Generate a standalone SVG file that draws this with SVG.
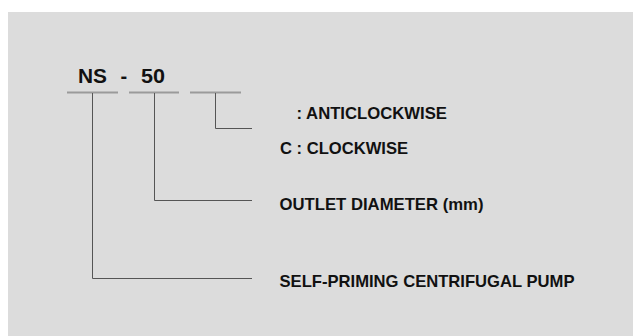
<svg xmlns="http://www.w3.org/2000/svg" width="633" height="336" viewBox="0 0 633 336">
<style>
.t{font-family:"Liberation Sans",Arial,sans-serif;font-weight:bold;fill:#111}
.lbl{font-size:17px}
.ttl{font-size:20px}
.bar{stroke:#9a9a9a;stroke-width:2;fill:none}
.ln{stroke:#555;stroke-width:1;fill:none}
</style>
<rect x="0" y="0" width="633" height="336" fill="#ffffff"/>
<rect x="8" y="12" width="625" height="324" fill="#dcdcdc"/>
<g id="code">
<text class="t ttl" x="78" y="83" textLength="29" lengthAdjust="spacingAndGlyphs">NS</text>
<text class="t ttl" x="120.5" y="83">-</text>
<text class="t ttl" x="141" y="83" textLength="24" lengthAdjust="spacingAndGlyphs">50</text>
<line class="bar" x1="67" y1="92.5" x2="118" y2="92.5"/>
<line class="bar" x1="129" y1="92.5" x2="179" y2="92.5"/>
<line class="bar" x1="190" y1="92.5" x2="241" y2="92.5"/>
</g>
<g id="connectors">
<polyline class="ln" points="215.5,93 215.5,128.5 252,128.5"/>
<polyline class="ln" points="154.5,93 154.5,200.5 252,200.5"/>
<polyline class="ln" points="92.5,93 92.5,278.5 252,278.5"/>
</g>
<g id="rotation">
<text class="t lbl" x="296.5" y="119" textLength="150.5" lengthAdjust="spacingAndGlyphs">: ANTICLOCKWISE</text>
<text class="t lbl" x="280" y="154" textLength="128" lengthAdjust="spacingAndGlyphs">C : CLOCKWISE</text>
</g>
<g id="outlet">
<text class="t lbl" x="279.5" y="209.5" textLength="204" lengthAdjust="spacingAndGlyphs">OUTLET DIAMETER (mm)</text>
</g>
<g id="pump">
<text class="t lbl" x="279.5" y="286.5" textLength="295" lengthAdjust="spacingAndGlyphs">SELF-PRIMING CENTRIFUGAL PUMP</text>
</g>
</svg>
